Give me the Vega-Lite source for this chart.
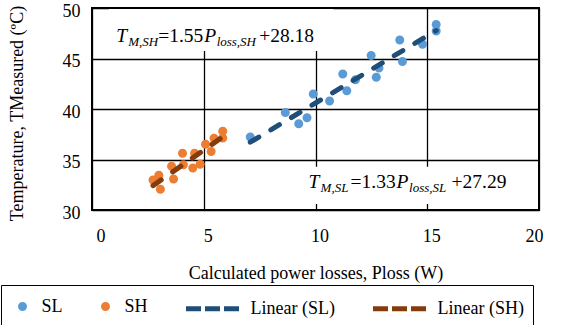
{
  "$schema": "https://vega.github.io/schema/vega-lite/v6.json",
  "autosize": "none",
  "width": 447,
  "height": 202,
  "padding": {"left": 92, "top": 8, "right": 31, "bottom": 115},
  "background": "white",
  "datasets": {
    "pts": [
      {"series": "SL", "P": 7.08, "T": 37.22},
      {"series": "SL", "P": 8.65, "T": 39.66},
      {"series": "SL", "P": 9.25, "T": 38.54},
      {"series": "SL", "P": 9.62, "T": 39.13},
      {"series": "SL", "P": 9.9, "T": 41.49},
      {"series": "SL", "P": 10.63, "T": 40.8},
      {"series": "SL", "P": 11.22, "T": 43.47},
      {"series": "SL", "P": 11.4, "T": 41.81},
      {"series": "SL", "P": 11.79, "T": 42.9},
      {"series": "SL", "P": 12.49, "T": 45.29},
      {"series": "SL", "P": 12.72, "T": 43.15},
      {"series": "SL", "P": 12.84, "T": 44.06},
      {"series": "SL", "P": 13.77, "T": 46.84},
      {"series": "SL", "P": 13.89, "T": 44.71},
      {"series": "SL", "P": 14.79, "T": 46.41},
      {"series": "SL", "P": 15.4, "T": 48.36},
      {"series": "SL", "P": 15.4, "T": 47.72},
      {"series": "SH", "P": 2.73, "T": 32.98},
      {"series": "SH", "P": 2.99, "T": 33.44},
      {"series": "SH", "P": 3.06, "T": 32.05},
      {"series": "SH", "P": 3.65, "T": 33.08},
      {"series": "SH", "P": 3.56, "T": 34.34},
      {"series": "SH", "P": 4.05, "T": 35.61},
      {"series": "SH", "P": 4.09, "T": 34.47},
      {"series": "SH", "P": 4.51, "T": 34.17},
      {"series": "SH", "P": 4.59, "T": 35.61},
      {"series": "SH", "P": 4.84, "T": 34.52},
      {"series": "SH", "P": 5.08, "T": 36.5},
      {"series": "SH", "P": 5.33, "T": 35.79},
      {"series": "SH", "P": 5.46, "T": 37.1},
      {"series": "SH", "P": 5.85, "T": 37.79},
      {"series": "SH", "P": 5.85, "T": 37.12}
    ],
    "trend": [
      {"series": "Linear (SL)", "P": 7.08, "T": 36.71},
      {"series": "Linear (SL)", "P": 15.4, "T": 47.77},
      {"series": "Linear (SH)", "P": 2.73, "T": 32.41},
      {"series": "Linear (SH)", "P": 5.85, "T": 37.25}
    ],
    "box": [
      {"P": 0.75, "P2": 10.8, "T": 45.75, "T2": 49.9},
      {"P": 9.42, "P2": 18.7, "T": 30.6, "T2": 34.27}
    ],
    "eq": [
      {"P": 1.08, "T": 46.63, "a": "T", "b": "M,SH", "c": "=1.55", "d": "P", "e": "loss,SH", "f": "+28.18"},
      {"P": 9.69, "T": 32.15, "a": "T", "b": "M,SL", "c": "=1.33", "d": "P", "e": "loss,SL", "f": "+27.29"}
    ]
  },
  "encoding": {
    "x": {
      "field": "P", "type": "quantitative",
      "scale": {"domain": [0, 20], "nice": false, "zero": false},
      "axis": {"values": [0, 5, 10, 15, 20], "title": "Calculated power losses, Ploss (W)", "labelPadding": 17, "labelOffset": 4, "titleX": 223.5, "titleY": 68, "titleBaseline": "alphabetic", "titleAlign": "center"}
    },
    "y": {
      "field": "T", "type": "quantitative",
      "scale": {"domain": [30, 50], "nice": false, "zero": false},
      "axis": {"values": [30, 35, 40, 45, 50], "title": "Temperature, TMeasured (ºC)", "labelPadding": 12, "labelOffset": 3, "titleX": -70, "titleY": 105, "titleBaseline": "alphabetic", "titleAlign": "center", "titleAngle": -90}
    }
  },
  "layer": [
    {
      "data": {"name": "box"},
      "mark": {"type": "rect", "fill": "white"},
      "encoding": {"x2": {"field": "P2"}, "y2": {"field": "T2"}}
    },
    {
      "data": {"name": "pts"},
      "mark": {"type": "point", "filled": true, "opacity": 1, "size": 400},
      "encoding": {
        "fill": {
          "field": "series", "type": "nominal",
          "scale": {"type": "ordinal", "domain": ["SL", "SH", "Linear (SL)", "Linear (SH)"], "range": ["#5B9BD5", "#ED7D31", "transparent", "transparent"]},
          "legend": {
            "orient": "none", "legendX": -91, "legendY": 277, "direction": "horizontal", "title": null,
            "symbolDash": [15, 4], "symbolOpacity": 1, "symbolSize": 400, "symbolStrokeWidth": 5,
            "labelOffset": 6.5, "columnPadding": 28, "padding": 9,
            "labelFont": "Liberation Serif", "labelFontSize": 18, "labelColor": "black",
            "strokeColor": "black"
          }
        },
        "shape": {
          "field": "series", "type": "nominal",
          "scale": {"type": "ordinal", "domain": ["SL", "SH", "Linear (SL)", "Linear (SH)"], "range": ["M-0.45,0a0.45,0.45 0 1,0 0.9,0a0.45,0.45 0 1,0 -0.9,0", "M-0.45,0a0.45,0.45 0 1,0 0.9,0a0.45,0.45 0 1,0 -0.9,0", "M-4.55,0H0.75", "M-4.55,0H0.75"]}
        }
      }
    },
    {
      "data": {"name": "trend"},
      "mark": {"type": "line", "strokeDash": [10, 14], "strokeCap": "round", "strokeWidth": 5},
      "encoding": {
        "stroke": {
          "field": "series", "type": "nominal",
          "scale": {"type": "ordinal", "domain": ["SL", "SH", "Linear (SL)", "Linear (SH)"], "range": ["transparent", "transparent", "#1F4E79", "#843C0C"]}
        }
      }
    },
    {
      "data": {"name": "eq"},
      "mark": {"type": "text", "align": "left", "baseline": "alphabetic", "font": "Liberation Serif", "fontSize": 19.5, "fontStyle": "italic", "color": "black", "dx": 0},
      "encoding": {"text": {"field": "a"}}
    },
    {
      "data": {"name": "eq"},
      "mark": {"type": "text", "align": "left", "baseline": "alphabetic", "font": "Liberation Serif", "fontSize": 13, "fontStyle": "italic", "color": "black", "dx": 12, "dy": 4},
      "encoding": {"text": {"field": "b"}}
    },
    {
      "data": {"name": "eq"},
      "mark": {"type": "text", "align": "left", "baseline": "alphabetic", "font": "Liberation Serif", "fontSize": 19.5, "color": "black", "dx": 42},
      "encoding": {"text": {"field": "c"}}
    },
    {
      "data": {"name": "eq"},
      "mark": {"type": "text", "align": "left", "baseline": "alphabetic", "font": "Liberation Serif", "fontSize": 19.5, "fontStyle": "italic", "color": "black", "dx": 88},
      "encoding": {"text": {"field": "d"}}
    },
    {
      "data": {"name": "eq"},
      "mark": {"type": "text", "align": "left", "baseline": "alphabetic", "font": "Liberation Serif", "fontSize": 13, "fontStyle": "italic", "color": "black", "dx": 100.5, "dy": 4},
      "encoding": {"text": {"field": "e"}}
    },
    {
      "data": {"name": "eq"},
      "mark": {"type": "text", "align": "left", "baseline": "alphabetic", "font": "Liberation Serif", "fontSize": 19.5, "color": "black", "dx": 143},
      "encoding": {"text": {"field": "f"}}
    }
  ],
  "config": {
    "font": "Liberation Serif",
    "view": {"stroke": "black", "strokeWidth": 2},
    "axis": {
      "grid": true, "gridColor": "black", "gridWidth": 1.3, "gridOpacity": 1,
      "ticks": false, "domain": false,
      "labelFont": "Liberation Serif", "labelFontSize": 18, "labelColor": "black",
      "titleFont": "Liberation Serif", "titleFontSize": 18, "titleFontWeight": "normal", "titleColor": "black"
    },
    "legend": {"labelFont": "Liberation Serif"}
  }
}
